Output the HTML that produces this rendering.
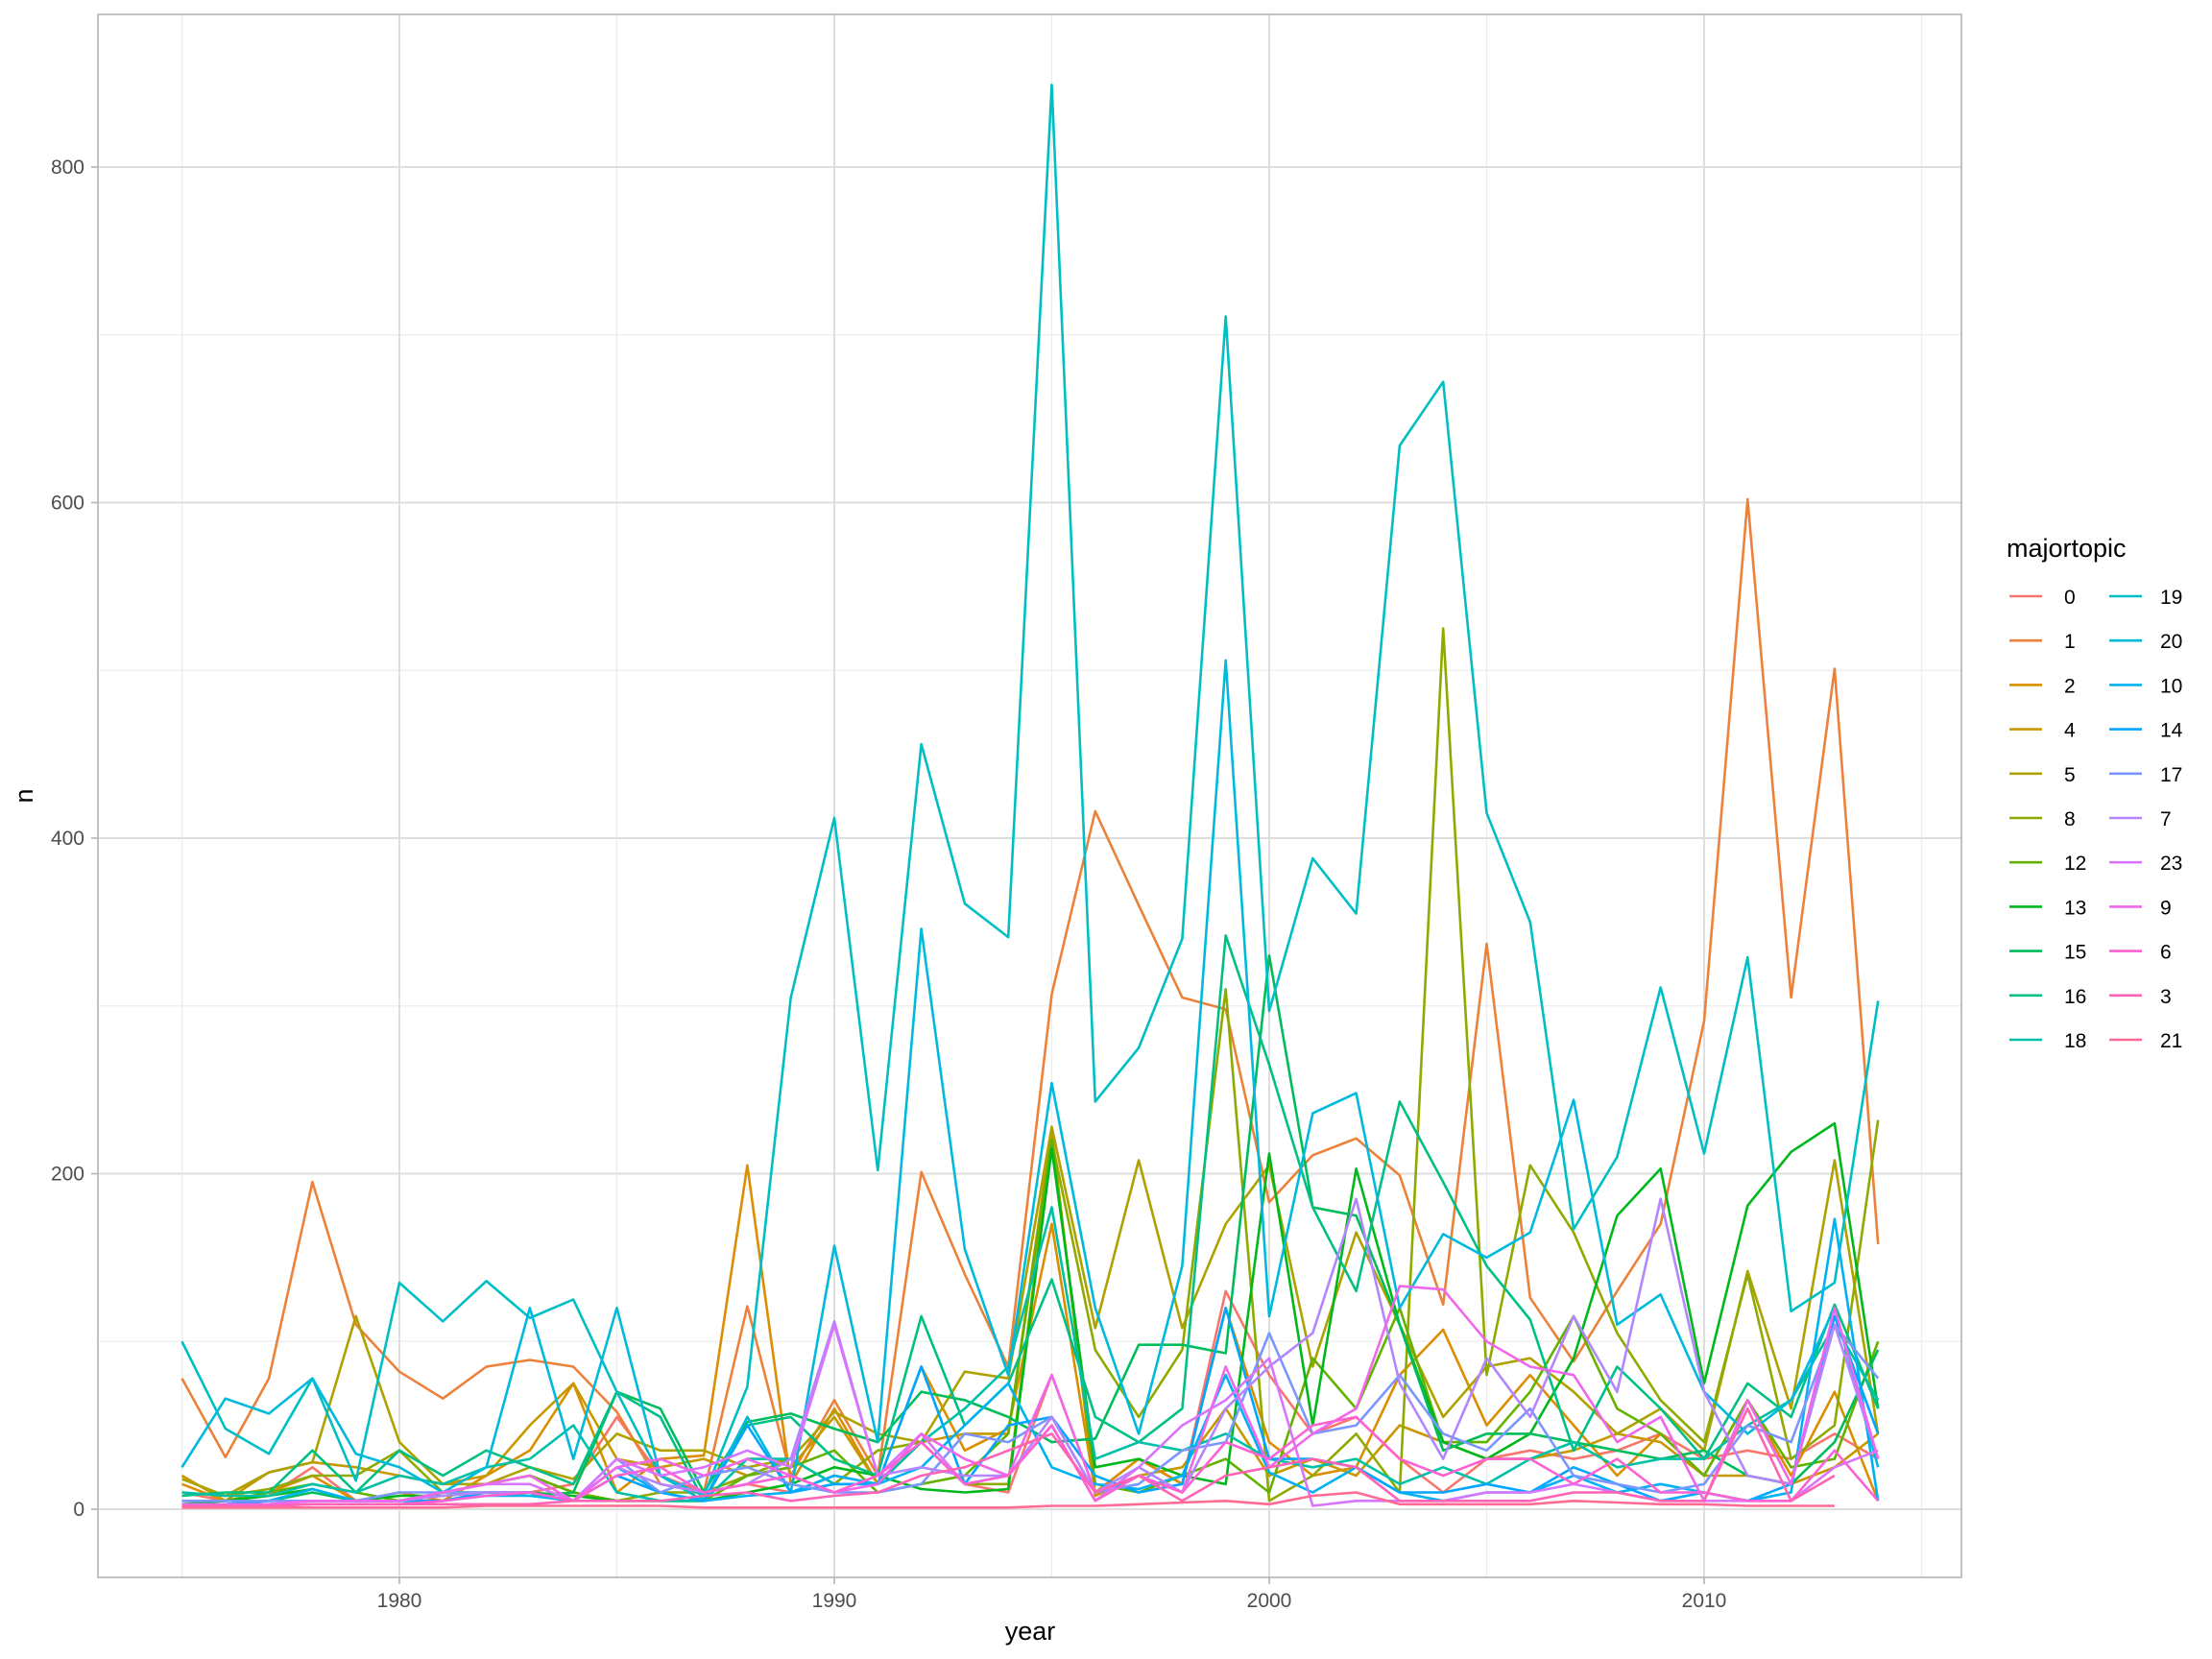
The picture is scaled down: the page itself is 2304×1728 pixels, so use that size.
<!DOCTYPE html>
<html><head><meta charset="utf-8"><style>
html,body{margin:0;padding:0;background:#fff}
svg{display:block;font-family:"Liberation Sans",Arial,sans-serif}
</style></head><body>
<svg id="chart" width="2304" height="1728" viewBox="0 0 2304 1728">
<rect x="0" y="0" width="2304" height="1728" fill="#fff"/>
<g id="grid"></g>
<g id="lines"></g>
<rect x="102" y="15" width="1941" height="1628" fill="none" stroke="#b3b3b3" stroke-width="1.6"/>
<g id="axes"></g>
<text x="1073" y="1708" font-size="27" text-anchor="middle" fill="#000">year</text>
<text x="0" y="0" font-size="27" text-anchor="middle" fill="#000" transform="translate(34,829) rotate(-90)">n</text>
<g id="legend">
<text x="2090" y="580" font-size="27" fill="#000">majortopic</text>
</g>
</svg>
<script>
const years = [];
for (let y = 1975; y <= 2014; y++) years.push(y);
const topics = ["0","1","2","4","5","8","12","13","15","16","18","19","20","10","14","17","7","23","9","6","3","21"];
const s0  = [10,5,8,25,5,10,5,10,10,15,55,20,10,15,10,20,15,40,15,10,80,10,30,15,130,80,45,55,30,10,30,35,30,35,45,30,35,30,45,30];
const s1  = [78,31,78,195,110,82,66,85,89,85,58,15,10,121,20,65,20,201,140,85,307,416,360,305,298,183,211,221,199,122,337,126,88,130,170,291,602,305,501,158];
const s2  = [15,5,10,20,5,10,5,20,35,75,10,30,32,205,15,60,15,85,35,48,170,10,30,15,120,40,20,25,80,107,50,80,50,20,45,20,65,20,70,5];
const s4  = [20,5,22,28,25,20,15,20,50,75,30,25,30,20,25,55,15,40,45,45,225,8,20,25,60,20,30,20,50,40,30,30,35,45,40,20,20,15,25,45];
const s5  = [18,8,22,28,115,40,15,15,25,18,45,35,35,25,30,58,45,40,82,78,228,108,208,108,170,205,85,165,110,55,85,90,70,45,60,35,142,60,208,45];
const s8  = [10,8,12,20,20,35,10,15,20,10,5,10,10,20,30,15,35,40,15,15,220,95,55,95,310,5,20,45,10,525,80,205,165,105,65,40,140,30,50,232];
const s12 = [5,5,10,15,10,5,10,15,20,10,5,5,5,20,25,35,10,15,20,45,220,15,10,20,30,10,90,60,120,40,40,70,115,60,45,20,65,25,30,100];
const s13 = [3,5,8,12,5,8,8,10,10,8,5,5,5,10,15,25,20,12,10,12,215,25,30,20,15,212,50,203,110,40,30,45,90,175,203,75,181,213,230,60];
const s15 = [5,5,5,10,5,5,10,10,8,10,70,60,10,52,57,48,40,70,65,55,40,42,98,98,93,330,180,175,110,35,45,45,40,35,30,35,20,15,40,95];
const s16 = [8,10,10,35,10,35,20,35,25,15,70,55,5,50,55,30,20,115,50,75,137,55,40,60,342,265,180,130,243,195,145,113,35,85,60,30,75,55,122,60];
const s18 = [10,8,8,15,10,20,15,25,30,50,10,5,5,30,30,15,15,40,60,85,180,30,40,35,45,30,25,30,15,25,15,30,40,25,30,30,50,65,110,65];
const s19 = [100,48,33,78,17,135,112,136,114,125,70,20,8,73,305,412,202,456,361,341,849,243,275,340,711,297,388,355,634,672,415,350,167,210,311,212,329,118,135,303];
const s20 = [25,66,57,78,33,25,10,25,120,30,120,20,5,55,10,157,40,346,155,80,254,120,45,145,506,115,236,248,120,164,150,165,244,110,128,70,45,65,120,25];
const s10 = [3,3,5,12,5,5,5,8,8,5,25,10,5,8,10,20,15,25,50,75,25,15,12,20,80,22,10,25,10,5,10,10,20,10,15,10,5,10,173,5];
const s14 = [3,3,5,5,5,5,5,10,10,5,20,10,5,50,10,15,15,85,15,50,55,20,10,15,120,30,30,25,10,10,15,10,25,15,5,10,5,15,115,45];
const s17 = [5,5,5,5,5,10,10,10,10,5,30,10,20,25,15,10,10,15,45,40,55,10,15,35,40,105,45,50,80,45,35,60,20,15,10,15,50,40,110,78];
const s7  = [3,3,3,5,5,5,8,10,10,5,25,15,10,15,30,112,20,25,20,20,55,10,25,10,60,85,105,185,75,30,90,55,115,70,185,70,20,15,110,30];
const s23 = [3,3,3,5,5,5,10,15,15,5,30,20,25,35,25,110,20,45,15,20,50,5,25,50,65,90,2,5,5,5,10,10,15,10,5,5,5,5,25,35];
const s9  = [2,3,3,5,5,5,10,15,20,5,25,30,20,30,20,10,15,45,30,20,80,10,20,10,85,25,45,60,133,131,100,85,80,40,55,5,65,15,120,30];
const s6  = [2,2,2,3,3,3,5,8,10,5,20,25,10,15,20,10,20,40,15,20,50,5,20,10,40,30,50,55,30,20,30,30,15,30,10,10,5,5,35,5];
const s3  = [2,2,2,3,3,3,3,3,3,5,5,5,8,10,5,8,10,20,25,35,45,10,20,5,20,25,30,25,5,5,5,5,10,10,5,5,60,5,20,null];
const s21 = [1,1,1,1,1,1,1,2,2,2,2,2,1,1,1,1,1,1,1,1,2,2,3,4,5,3,8,10,3,3,3,3,5,4,3,3,2,2,2,null];
const seriesList = [s0,s1,s2,s4,s5,s8,s12,s13,s15,s16,s18,s19,s20,s10,s14,s17,s7,s23,s9,s6,s3,s21];
const yTicks = [0,200,400,600,800];
const yMinor = [100,300,500,700];
const xTicks = [1980,1990,2000,2010];
const xMinor = [1975,1985,1995,2005,2015];

const NS = "http://www.w3.org/2000/svg";
const PL = 102, PR = 2043, PT = 15, PB = 1643;
function xs(yr){ return 189.5 + (yr - 1975) * 45.3; }
function ys(v){ return 1572 - v * 1.7475; }
function mk(tag, attrs, parent){
  const e = document.createElementNS(NS, tag);
  for (const k in attrs) e.setAttribute(k, attrs[k]);
  parent.appendChild(e); return e;
}
function hcl(h, c, l){
  const hr = h * Math.PI / 180;
  const U = c * Math.cos(hr), V = c * Math.sin(hr);
  const Y = l > 8 ? Math.pow((l + 16) / 116, 3) : l / 903.3;
  const Xn = 95.047, Yn = 100, Zn = 108.883;
  const un = 4*Xn/(Xn+15*Yn+3*Zn), vn = 9*Yn/(Xn+15*Yn+3*Zn);
  const up = U/(13*l) + un, vp = V/(13*l) + vn;
  const X = Y*9*up/(4*vp), Z = Y*(12-3*up-20*vp)/(4*vp);
  let r = 3.2404542*X - 1.5371385*Y - 0.4985314*Z;
  let g = -0.9692660*X + 1.8760108*Y + 0.0415560*Z;
  let b = 0.0556434*X - 0.2040259*Y + 1.0572252*Z;
  const gm = v => { v = v <= 0.0031308 ? 12.92*v : 1.055*Math.pow(v, 1/2.4) - 0.055; return Math.round(Math.max(0, Math.min(1, v))*255); };
  return "rgb(" + gm(r) + "," + gm(g) + "," + gm(b) + ")";
}
const grid = document.getElementById("grid");
const axes = document.getElementById("axes");
yMinor.forEach(v => {
  const l = mk("line", {x1:PL, x2:PR, y1:ys(v), y2:ys(v), stroke:"#ededed", "stroke-width":1.3}, grid);
  
  
});
xMinor.forEach(v => {
  const l = mk("line", {x1:xs(v), x2:xs(v), y1:PT, y2:PB, stroke:"#ededed", "stroke-width":1.3}, grid);
  
  
});
yTicks.forEach(v => {
  const l = mk("line", {x1:PL, x2:PR, y1:ys(v), y2:ys(v), stroke:"#dedede", "stroke-width":2}, grid);
  
  
  const t = mk("line", {x1:95, x2:PL, y1:ys(v), y2:ys(v), stroke:"#b3b3b3", "stroke-width":1.6}, axes);
  
  
  const tx = mk("text", {x:88, y:ys(v)+7, "font-size":21, "text-anchor":"end", fill:"#4d4d4d"}, axes);
  tx.textContent = v;
  
  
});
xTicks.forEach(v => {
  const l = mk("line", {x1:xs(v), x2:xs(v), y1:PT, y2:PB, stroke:"#dedede", "stroke-width":2}, grid);
  
  
  const t = mk("line", {x1:xs(v), x2:xs(v), y1:PB, y2:PB+7, stroke:"#b3b3b3", "stroke-width":1.6}, axes);
  
  
  const tx = mk("text", {x:xs(v), y:1674, "font-size":21, "text-anchor":"middle", fill:"#4d4d4d"}, axes);
  tx.textContent = v;
  
  
});
const linesG = document.getElementById("lines");
const legend = document.getElementById("legend");
const n = topics.length;
topics.forEach((tp, i) => {
  const col = hcl(15 + i*360/n, 100, 65);
  const vals = seriesList[i];
  let d = "", pen = false;
  vals.forEach((v, j) => {
    if (v === null || v === undefined) { pen = false; return; }
    d += (pen ? "L" : "M") + xs(years[j]).toFixed(1) + "," + ys(v).toFixed(1);
    pen = true;
  });
  const p = mk("path", {d:d, fill:"none", stroke:col, "stroke-width":2.6, "stroke-linejoin":"round"}, linesG);
  
  
  const colIdx = i < 11 ? 0 : 1, row = i % 11;
  const lx = colIdx ? 2197 : 2093, tx = colIdx ? 2250 : 2150;
  const cy = 621 + row * 46.2;
  const g = mk("g", {}, legend);
  
  
  mk("line", {x1:lx, x2:lx+34, y1:cy, y2:cy, stroke:col, "stroke-width":2.6}, g);
  const t = mk("text", {x:tx, y:cy+8, "font-size":21, fill:"#000"}, g);
  t.textContent = tp;
});
</script>
</body></html>
